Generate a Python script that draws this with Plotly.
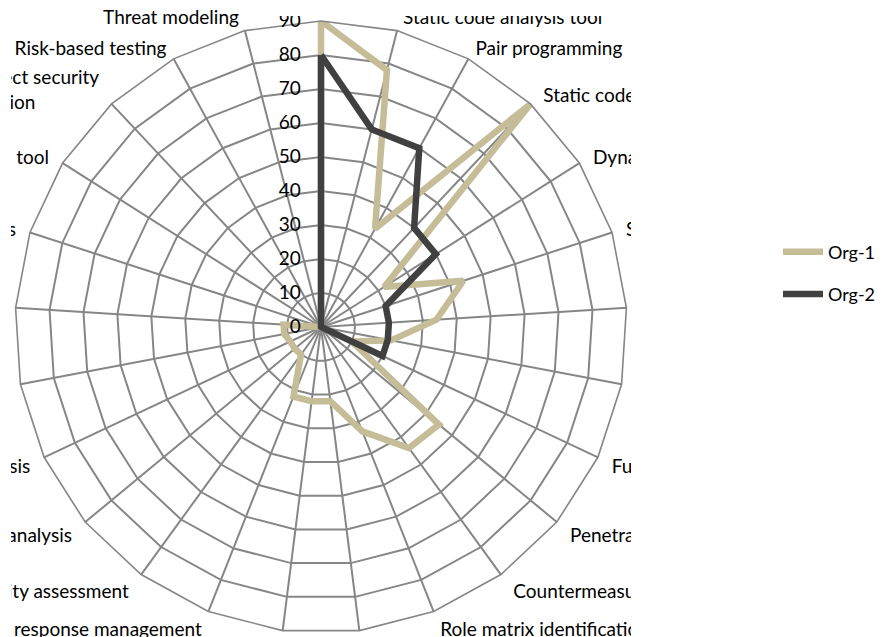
import math
import plotly.graph_objects as go

# Practices, clockwise from the top spoke
categories = [
    "Attack trees",
    "Static code analysis tool",
    "Pair programming",
    "Static code review",
    "Dynamic code analysis",
    "Security testing",
    "Security design review",
    "Code review",
    "Fuzz testing",
    "Penetration testing",
    "Countermeasure identification",
    "Role matrix identification",
    "Security patching",
    "Security monitoring",
    "Incident response management",
    "Security assessment",
    "Attack surface analysis",
    "Security risk analysis",
    "Misuse cases",
    "Abuse cases",
    "Security metrics",
    "Static code metric tool",
    "Project security champion",
    "Risk-based testing",
    "Threat modeling",
]

org1 = [90, 78, 33, 90, 22, 44, 34, 21, 10, 45, 44, 33, 22, 22, 22,
        10, 10, 10, 11, 11, 0, 0, 0, 0, 0]
org2 = [80, 60, 60, 40, 40, 20, 20, 20, 20, 0, 0, 0, 0, 0, 0,
        0, 0, 0, 0, 0, 0, 0, 0, 0, 0]

radial_ticks = [0, 10, 20, 30, 40, 50, 60, 70, 80, 90]

W, H = 882, 637
FONT = "Lato, 'Open Sans', sans-serif"
FS = 19
GRID = "#868686"
CLEAR = "rgba(0,0,0,0)"
NBSP = "\u00a0"


def closed(seq):
    return list(seq) + [seq[0]]


def tick_label(i, name):
    """Category label with a little extra room away from the outer ring."""
    ang = 2 * math.pi * i / len(categories)
    s = math.sin(ang)
    pad = NBSP * (2 if abs(s) > 0.5 else 1) if abs(s) > 0.15 else ""
    if name == "Project security champion":
        # two-line block sitting a line lower, lines flush left
        return (NBSP + "<br>Project security" + pad
                + "<br>champion" + NBSP * 13 + pad)
    return pad + name if s > 0 else name + pad


tick_text = [tick_label(i, c) for i, c in enumerate(categories)]

fig = go.Figure()
fig.add_trace(go.Scatterpolar(
    r=closed(org1), theta=closed(categories), mode="lines", name="Org-1",
    line=dict(color="#C4BD97", width=6.5), legendgroup="a",
))
fig.add_trace(go.Scatterpolar(
    r=closed(org2), theta=closed(categories), mode="lines", name="Org-2",
    line=dict(color="#404040", width=6.5), legendgroup="b",
))


def px_rect(x0, x1, y0, y1):
    """White mask in pixel units measured from the top-left corner."""
    return dict(type="rect", xref="paper", yref="paper", layer="above",
                x0=x0 / W, x1=x1 / W, y0=1 - y1 / H, y1=1 - y0 / H,
                fillcolor="white", line=dict(width=0))


cx, cy, R = 321, 327, 306
fig.update_layout(
    width=W, height=H,
    margin=dict(l=0, r=0, t=0, b=0, autoexpand=False),
    paper_bgcolor="white",
    font=dict(family=FONT, size=FS, color="black"),
    polar=dict(
        domain=dict(x=[(cx - R) / W, (cx + R) / W],
                    y=[1 - (cy + R) / H, 1 - (cy - R) / H]),
        bgcolor="white",
        gridshape="linear",
        radialaxis=dict(
            range=[0, 90], tickvals=radial_ticks, angle=90, tickangle=90,
            side="counterclockwise", showline=False,
            ticks="outside", ticklen=13, tickcolor=CLEAR,
            gridcolor=GRID, gridwidth=1.6,
            tickfont=dict(family=FONT, size=FS, color="black"),
        ),
        angularaxis=dict(
            direction="clockwise", rotation=90,
            categoryarray=categories, categoryorder="array",
            tickvals=categories, ticktext=tick_text,
            showline=True, linecolor=GRID, linewidth=1.6,
            gridcolor=GRID, gridwidth=1.6, ticks="",
            tickfont=dict(family=FONT, size=FS, color="black"),
        ),
    ),
    legend=dict(
        x=778 / W, y=1 - 273 / H, xanchor="left", yanchor="middle",
        itemwidth=40, tracegroupgap=16,
        font=dict(family=FONT, size=18, color="black"),
        bgcolor=CLEAR,
    ),
    shapes=[
        # edges of the chart area
        px_rect(631, W, 0, H),
        px_rect(246, 631, 0, 16),
        px_rect(0, 11, 0, H),
        px_rect(212, 432, 633, H),
    ],
)

fig.write_html("out.html")
